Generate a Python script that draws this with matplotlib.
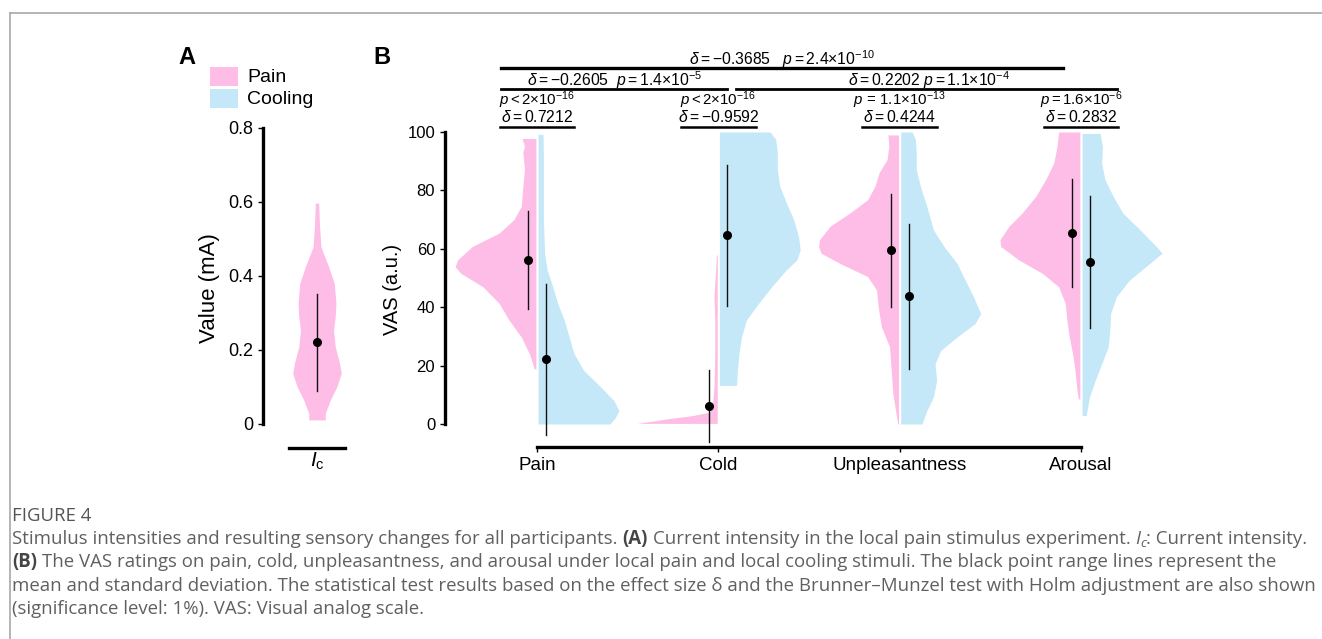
import matplotlib
matplotlib.use("Agg")
import matplotlib.pyplot as plt
from matplotlib.patches import Rectangle
from matplotlib.lines import Line2D
from matplotlib.transforms import IdentityTransform

plt.rcParams["font.family"] = ["Liberation Sans", "DejaVu Sans"]
plt.rcParams["mathtext.fontset"] = "custom"
plt.rcParams["mathtext.rm"] = "Liberation Sans"
plt.rcParams["mathtext.it"] = "Liberation Sans:italic"
plt.rcParams["mathtext.bf"] = "Liberation Sans:bold"

PINK = "#FDBDE6"
BLUE = "#C4E8F7"

# ---- panel A: current intensity (mA) ----
ic_y = [0.597, 0.542, 0.479, 0.425, 0.380, 0.326, 0.290, 0.254, 0.209, 0.164, 0.137, 0.101, 0.065, 0.029, 0.011]
ic_w = [0.07, 0.10, 0.16, 0.48, 0.71, 0.78, 0.75, 0.68, 0.75, 0.93, 1.00, 0.82, 0.55, 0.34, 0.34]
ic_mean = 0.2205
ic_sd = 0.132

# ---- panel B: VAS half-violin outlines (value, relative width) ----
categories = ["Pain", "Cold", "Unpleasantness", "Arousal"]

pain_pain_y = [97.8, 95.2, 92.9, 87.2, 81.4, 74.5, 70.0, 65.4, 60.8, 56.2, 53.9, 51.6, 47.0, 41.3, 35.6, 29.8, 24.1, 18.9]
pain_pain_w = [0.17, 0.14, 0.16, 0.14, 0.16, 0.18, 0.27, 0.45, 0.78, 0.96, 0.99, 0.92, 0.65, 0.45, 0.33, 0.18, 0.08, 0.02]
pain_cool_y = [99.2, 92.9, 81.4, 70.0, 58.5, 52.8, 47.0, 41.3, 35.6, 29.8, 24.1, 18.3, 12.6, 8.0, 4.6, 2.3, 0.0]
pain_cool_w = [0.06, 0.065, 0.065, 0.065, 0.08, 0.11, 0.18, 0.24, 0.32, 0.38, 0.44, 0.56, 0.77, 0.93, 0.99, 0.95, 0.88]

cold_pain_y = [57.9, 52.8, 43.6, 35.6, 24.1, 12.6, 5.7, 4.0, 2.9, 1.7, 0.2]
cold_pain_w = [0.01, 0.02, 0.04, 0.03, 0.03, 0.04, 0.06, 0.10, 0.30, 0.63, 0.98]
cold_cool_y = [100.0, 97.5, 92.9, 87.2, 81.4, 75.7, 70.0, 64.2, 59.6, 56.2, 52.8, 47.0, 41.3, 35.6, 29.8, 24.1, 18.3, 13.2]
cold_cool_w = [0.62, 0.69, 0.71, 0.71, 0.74, 0.82, 0.91, 0.97, 0.99, 0.95, 0.82, 0.64, 0.48, 0.33, 0.27, 0.24, 0.22, 0.21]

unpl_pain_y = [99.0, 95.2, 90.6, 86.0, 81.4, 76.8, 72.2, 67.7, 63.1, 60.8, 58.5, 55.0, 50.5, 45.9, 40.1, 33.3, 26.4, 18.3, 10.3, 3.4, 0.0]
unpl_pain_w = [0.13, 0.12, 0.14, 0.24, 0.29, 0.38, 0.60, 0.84, 0.97, 0.98, 0.95, 0.72, 0.38, 0.27, 0.25, 0.21, 0.11, 0.09, 0.07, 0.03, 0.01]
unpl_cool_y = [100.0, 97.5, 92.9, 87.2, 81.4, 74.5, 66.5, 60.8, 55.0, 49.3, 43.6, 37.8, 34.4, 29.8, 25.2, 20.6, 14.9, 9.2, 4.6, 0.0]
unpl_cool_w = [0.14, 0.18, 0.19, 0.19, 0.24, 0.32, 0.40, 0.53, 0.69, 0.79, 0.89, 0.98, 0.91, 0.69, 0.49, 0.42, 0.44, 0.40, 0.32, 0.26]

arou_pain_y = [100.0, 95.2, 89.4, 83.7, 78.0, 72.2, 67.7, 63.1, 60.8, 56.2, 51.6, 47.0, 41.3, 35.6, 29.8, 24.1, 18.3, 12.6, 8.6]
arou_pain_w = [0.26, 0.28, 0.32, 0.42, 0.54, 0.71, 0.87, 0.98, 0.97, 0.75, 0.46, 0.26, 0.18, 0.16, 0.13, 0.09, 0.06, 0.04, 0.02]
arou_cool_y = [99.5, 95.2, 89.4, 83.7, 78.0, 72.2, 66.5, 60.8, 58.5, 55.0, 49.3, 43.6, 37.8, 32.1, 26.4, 20.6, 14.9, 9.2, 2.9]
arou_cool_w = [0.22, 0.25, 0.24, 0.28, 0.38, 0.50, 0.71, 0.91, 0.98, 0.83, 0.58, 0.42, 0.35, 0.34, 0.32, 0.24, 0.16, 0.09, 0.05]

pain_mean = [56.2, 6.2, 59.5, 65.4]
pain_sd = [16.9, 12.2, 19.4, 18.5]
cool_mean = [22.1, 64.6, 43.8, 55.5]
cool_sd = [26.0, 24.1, 24.8, 22.5]

# per-category test results
cat_p = [r"$p < 2{\times}10^{-16}$", r"$p < 2{\times}10^{-16}$",
         r"$p\, =\, 1.1{\times}10^{-13}$", r"$p = 1.6{\times}10^{-6}$"]
cat_d = [r"$\delta = 0.7212$", r"$\delta = -0.9592$", r"$\delta = 0.4244$", r"$\delta = 0.2832$"]

# between-category comparisons: (x0, x1, text baseline, label, label_x)
comparisons = [
    (0.80, 3.90, 123.0, r"$\delta = -0.3685\ \ \ p = 2.4{\times}10^{-10}$", 2.35),
    (0.80, 2.05, 115.9, r"$\delta = -0.2605\ \ p = 1.4{\times}10^{-5}$", 1.43),
    (2.10, 4.20, 115.9, r"$\delta = 0.2202\ p = 1.1{\times}10^{-4}$", 3.16),
]

W, H = 1322, 639
fig = plt.figure(figsize=(W / 100, H / 100), dpi=100)


def px_axes(left, top, right, bottom):
    return fig.add_axes([left / W, 1 - bottom / H, (right - left) / W, (bottom - top) / H])


def style_axes(ax):
    for s in ["top", "right"]:
        ax.spines[s].set_visible(False)
    for s in ["left", "bottom"]:
        ax.spines[s].set_linewidth(2.4)
    ax.tick_params(length=3.6, width=1.0, color="black")


# ---------- panel A ----------
axA = px_axes(263, 128, 373, 448)
axA.set_xlim(0.46, 1.56)
axA.set_ylim(-0.065, 0.8)
style_axes(axA)
axA.spines["left"].set_bounds(0, 0.8)
axA.spines["bottom"].set_bounds(0.72, 1.28)
wA = 0.243
axA.fill_betweenx(ic_y, [1 - w * wA for w in ic_w], [1 + w * wA for w in ic_w], color=PINK, lw=0)
axA.plot([1, 1], [ic_mean - ic_sd, ic_mean + ic_sd], color="#111111", lw=1.0)
axA.plot([1], [ic_mean], "o", color="black", ms=5.5)
axA.set_yticks([0, 0.2, 0.4, 0.6, 0.8])
axA.set_yticklabels(["0", "0.2", "0.4", "0.6", "0.8"], fontsize=13)
axA.set_xticks([1])
axA.set_xticklabels([r"$I_{\mathrm{c}}$"], fontsize=15)
axA.tick_params(axis="x", length=0, pad=2)
axA.set_ylabel("Value (mA)", fontsize=16, labelpad=6)

# ---------- panel B ----------
unit = 181.33
axB = px_axes(445, 132, 445 + 730, 447)
x_left = 1 - (537 - 445) / unit
axB.set_xlim(x_left, x_left + 730 / unit)
axB.set_ylim(-(447 - 424) / 2.92, 100)
style_axes(axB)
axB.spines["left"].set_bounds(0, 100)
axB.spines["bottom"].set_bounds(1, 4)

maxw = 0.45
gap = 0.006
shapes = [
    (pain_pain_y, pain_pain_w, pain_cool_y, pain_cool_w),
    (cold_pain_y, cold_pain_w, cold_cool_y, cold_cool_w),
    (unpl_pain_y, unpl_pain_w, unpl_cool_y, unpl_cool_w),
    (arou_pain_y, arou_pain_w, arou_cool_y, arou_cool_w),
]
for i, (py, pw, cy, cw) in enumerate(shapes):
    c = i + 1
    axB.fill_betweenx(py, [c - gap - w * maxw for w in pw], c - gap, color=PINK, lw=0)
    axB.fill_betweenx(cy, c + gap, [c + gap + w * maxw for w in cw], color=BLUE, lw=0)
    for off, m, sd in [(-0.05, pain_mean[i], pain_sd[i]), (0.05, cool_mean[i], cool_sd[i])]:
        axB.plot([c + off, c + off], [m - sd, m + sd], color="#111111", lw=1.0, clip_on=False)
        axB.plot([c + off], [m], "o", color="black", ms=5.5, clip_on=False)

axB.set_yticks([0, 20, 40, 60, 80, 100])
axB.set_yticklabels(["0", "20", "40", "60", "80", "100"], fontsize=12)
axB.set_xticks([1, 2, 3, 4])
axB.set_xticklabels(categories, fontsize=13.5)
axB.set_ylabel("VAS (a.u.)", fontsize=14.5, labelpad=4)

for i in range(4):
    c = i + 1
    axB.text(c, 109.2, cat_p[i], ha="center", va="baseline", fontsize=10.8)
    axB.text(c, 103.5, cat_d[i], ha="center", va="baseline", fontsize=11.3)
    axB.plot([c - 0.205, c + 0.205], [101.7, 101.7], color="black", lw=1.8, clip_on=False)

for x0, x1, lev, lab, lx in comparisons:
    axB.text(lx, lev, lab, ha="center", va="baseline", fontsize=11.3)
    axB.plot([x0, x1], [lev - 1.2, lev - 1.2], color="black",
             lw=2.4 if lev > 120 else 2.0, clip_on=False)

# ---------- panel letters and legend ----------
fig.text(178 / W, 1 - 57 / H, "A", fontsize=17, fontweight="bold", va="center")
fig.text(373 / W, 1 - 57 / H, "B", fontsize=17, fontweight="bold", va="center")
for (top, label, col) in [(67, "Pain", PINK), (89, "Cooling", BLUE)]:
    fig.add_artist(Rectangle((210 / W, 1 - (top + 19) / H), 28 / W, 19 / H,
                             transform=fig.transFigure, color=col, lw=0))
    fig.text(247 / W, 1 - (top + 10) / H, label, fontsize=14, va="center")

# ---------- frame ----------
fig.add_artist(Line2D([10 / W, 1], [1 - 13 / H, 1 - 13 / H], transform=fig.transFigure,
                      color="#a8a8a8", lw=1.2))
fig.add_artist(Line2D([10 / W, 10 / W], [0, 1 - 13 / H], transform=fig.transFigure,
                      color="#a8a8a8", lw=1.2))

# ---------- caption ----------
CAP = "Open Sans"
CAP_COL = "#606060"
renderer = fig.canvas.get_renderer()


def text_w(s, size, **kw):
    t = fig.text(0, 0, s, fontsize=size, family=CAP, **kw)
    w = t.get_window_extent(renderer).width
    t.remove()
    return w


def runs(x, y, parts, base, draw=True):
    yd = H - y
    sp = text_w("a a", base) - text_w("aa", base)
    for s, kw in parts:
        kw = dict(kw)
        lead = len(s) - len(s.lstrip(" "))
        trail = len(s) - len(s.rstrip(" "))
        s = s.strip(" ")
        x += lead * sp
        dy = kw.pop("dy", 0)
        size = base * kw.pop("scale", 1.0)
        col = kw.pop("color", CAP_COL)
        t = fig.text(x, yd + dy, s, transform=IdentityTransform(), fontsize=size, family=CAP,
                     color=col, va="baseline", **kw)
        x += t.get_window_extent(renderer).width + trail * sp
        if not draw:
            t.remove()
    return x


B = {"fontweight": "bold", "color": "#454545"}
line1 = [("Stimulus intensities and resulting sensory changes for all participants. ", {}),
         ("(A)", B), (" Current intensity in the local pain stimulus experiment. ", {}),
         ("I", {"style": "italic"}), ("c", {"style": "italic", "scale": 0.7, "dy": -3}),
         (": Current intensity.", {})]
# fit the caption so that its first line spans the same width as in the figure
w12 = runs(0, 0, line1, 12, draw=False)
cap_size = 12 * 1291 / w12

runs(12, 521, [("FIGURE 4", {"color": "#555555"})], cap_size)
runs(12, 544, line1, cap_size)
runs(12, 567, [("(B)", B), (" The VAS ratings on pain, cold, unpleasantness, and arousal under local pain "
                            "and local cooling stimuli. The black point range lines represent the", {})], cap_size)
runs(12, 591, [("mean and standard deviation. The statistical test results based on the effect size \u03b4 "
                "and the Brunner\u2013Munzel test with Holm adjustment are also shown", {})], cap_size)
runs(12, 614, [("(significance level: 1%). VAS: Visual analog scale.", {})], cap_size)

fig.savefig("out.png", dpi=100)
